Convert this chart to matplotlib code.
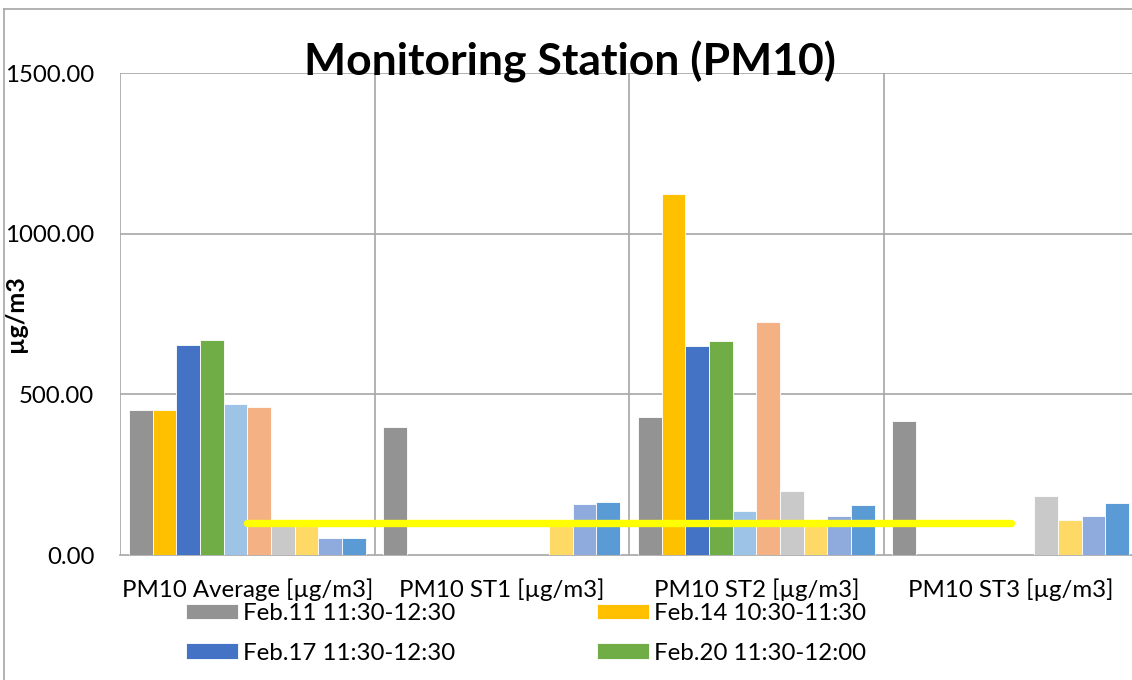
import numpy as np
import matplotlib
matplotlib.use("Agg")
import matplotlib.pyplot as plt
from matplotlib.lines import Line2D

plt.rcParams['font.family'] = ['Lato', 'DejaVu Sans']

# categories on the x axis
categories = ["PM10 Average [µg/m3]", "PM10 ST1 [µg/m3]",
              "PM10 ST2 [µg/m3]", "PM10 ST3 [µg/m3]"]

# one list per series (value per category)
s1 = [451, 399, 430, 418]
s2 = [451, 0, 1125, 0]
s3 = [653, 0, 651, 0]
s4 = [668, 0, 667, 0]
s5 = [471, 0, 136, 0]
s6 = [460, 0, 725, 0]
s7 = [98, 0, 199, 185]
s8 = [97, 95, 110, 108]
s9 = [53, 160, 121, 121]
s10 = [53, 164, 156, 161]
series = [s1, s2, s3, s4, s5, s6, s7, s8, s9, s10]

# only these four made it into the visible legend
legend_labels = ["Feb.11 11:30-12:30", "Feb.14 10:30-11:30",
                 "Feb.17 11:30-12:30", "Feb.20 11:30-12:00"]

colors = ["#939393", "#FFC000", "#4472C4", "#70AD47", "#9DC3E6",
          "#F4B183", "#C9C9C9", "#FFD966", "#8FAADC", "#5B9BD5"]

limit_value = 100
yticks = [0, 500, 1000, 1500]

W, H = 1132, 680
fig = plt.figure(figsize=(W / 100, H / 100), dpi=100)

# axes box in pixels of the reference
left, right, top, bottom = 120, 120 + 4 * 254.5, 73, 555
ax = fig.add_axes([left / W, 1 - bottom / H, (right - left) / W, (bottom - top) / H])

x = np.arange(len(categories))
n = len(series)
group = 0.93
bw = group / n
bars = []
for i, vals in enumerate(series):
    b = ax.bar(x - group / 2 + bw * (i + 0.5), vals, width=bw, color=colors[i],
               edgecolor="white", linewidth=0.6, zorder=3)
    bars.append(b)

# threshold line
ax.plot([x[0], x[-1]], [limit_value, limit_value], color="#FFFF00", lw=5.3,
        solid_capstyle="round", zorder=5)

fs = 17.3
ax.set_xlim(-0.5, len(categories) - 0.5)
ax.set_ylim(0, 1500)
ax.set_yticks(yticks)
ax.set_yticklabels([f"{v:.2f}" for v in yticks], fontsize=fs)
ax.set_xticks(x)
ax.set_xticklabels(categories, fontsize=fs)
ax.tick_params(axis="y", length=0, pad=18.5)
ax.tick_params(axis="x", length=0, pad=16.5)

# gridlines: horizontal at ticks, vertical between categories
for v in yticks[1:]:
    ax.axhline(v, color="#A6A6A6", lw=1.2, zorder=1)
for xv in np.arange(len(categories)) - 0.5:
    ax.axvline(xv, color="#A6A6A6", lw=1.2, zorder=1)
for side in ["top", "right", "left"]:
    ax.spines[side].set_visible(False)
ax.spines["bottom"].set_color("#A6A6A6")
ax.spines["bottom"].set_linewidth(1.2)

ax.set_ylabel("µg/m3", fontsize=18, fontweight="bold")
ax.yaxis.set_label_coords((27 - left) / (right - left), 0.5)

fig.text(570 / W, 1 - 62 / H, "Monitoring Station (PM10)", fontsize=32,
         fontweight="bold", ha="center", va="center")

# outer chart border (cropped)
fig.add_artist(Line2D([4 / W, 4 / W], [0, 1 - 9 / H], color="#A6A6A6", lw=1.2))
fig.add_artist(Line2D([4 / W, 1], [1 - 9 / H, 1 - 9 / H], color="#A6A6A6", lw=1.2))

# legend fills row by row in the reference
order = [0, 2, 1, 3]
handles = [bars[i][0] for i in order]
labels = [legend_labels[i] for i in order]
fig.legend(handles, labels, ncol=2, loc="upper left",
           bbox_to_anchor=(186 / W, 1 - 603 / H), frameon=False, fontsize=fs,
           handlelength=2.17, handleheight=0.62, handletextpad=0.2,
           columnspacing=5.9, labelspacing=0.78, borderpad=0, borderaxespad=0)

fig.savefig("out.png", dpi=100)
